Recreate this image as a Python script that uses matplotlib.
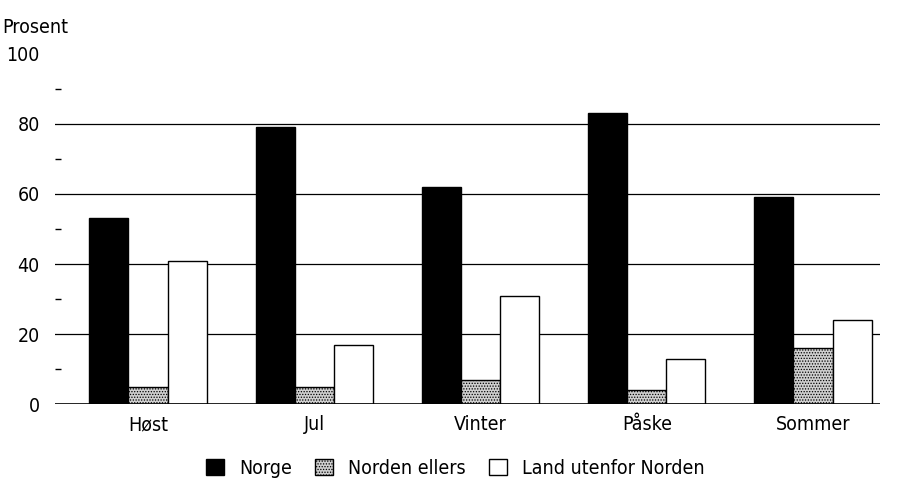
import matplotlib
matplotlib.use("Agg")
import matplotlib.pyplot as plt
from matplotlib.patches import Patch
import numpy as np

# Data
seasons = ["Høst", "Jul", "Vinter", "Påske", "Sommer"]
norge = [53, 79, 62, 83, 59]
norden_ellers = [5, 5, 7, 4, 16]
land_utenfor = [41, 17, 31, 13, 24]
series_labels = ["Norge", "Norden ellers", "Land utenfor Norden"]

plt.rcParams['font.family'] = ['DejaVu Sans']
plt.rcParams['font.stretch'] = 'condensed'
plt.rcParams['hatch.linewidth'] = 0.6
plt.rcParams['hatch.color'] = '#444444'

fig = plt.figure(figsize=(9.11, 4.93), dpi=100)
ax = fig.add_axes([0.0604, 0.1805, 0.9056, 0.71])

x = np.arange(len(seasons))
w = 0.235

ax.bar(x - w, norge, w, color="black", edgecolor="black", linewidth=1, zorder=3)
ax.bar(x, norden_ellers, w, color="#cfcfcf", edgecolor="black", linewidth=1, hatch="......", zorder=3)
ax.bar(x + w, land_utenfor, w, color="white", edgecolor="black", linewidth=1, zorder=3)

ax.set_xlim(-0.559, 4.403)
ax.set_ylim(0, 100)
ax.set_yticks([0, 20, 40, 60, 80, 100])
ax.set_yticks([10, 30, 50, 70, 90], minor=True)
ax.tick_params(axis='y', which='major', length=0, pad=11, labelsize=14)
ax.tick_params(axis='y', which='minor', length=4, width=1, direction='in', color='black')
ax.set_xticks(x)
ax.set_xticklabels(seasons)
ax.tick_params(axis='x', length=0, pad=8, labelsize=14)

for yv in [20, 40, 60, 80]:
    ax.axhline(yv, color="black", linewidth=0.9, zorder=1)
ax.axhline(0, color="black", linewidth=1.2, zorder=4)

for s in ax.spines.values():
    s.set_visible(False)

fig.text(0.002, 0.945, "Prosent", fontsize=14, ha="left", va="center")

handles = [
    Patch(facecolor="black", edgecolor="black"),
    Patch(facecolor="#cfcfcf", edgecolor="black", hatch="......"),
    Patch(facecolor="white", edgecolor="black"),
]
fig.legend(handles=handles, labels=series_labels, loc="center", bbox_to_anchor=(0.5, 0.05),
           ncol=3, frameon=False, fontsize=14, handlelength=0.9, handleheight=0.9,
           handletextpad=0.8, columnspacing=1.2)

plt.savefig("out.png", dpi=100)
